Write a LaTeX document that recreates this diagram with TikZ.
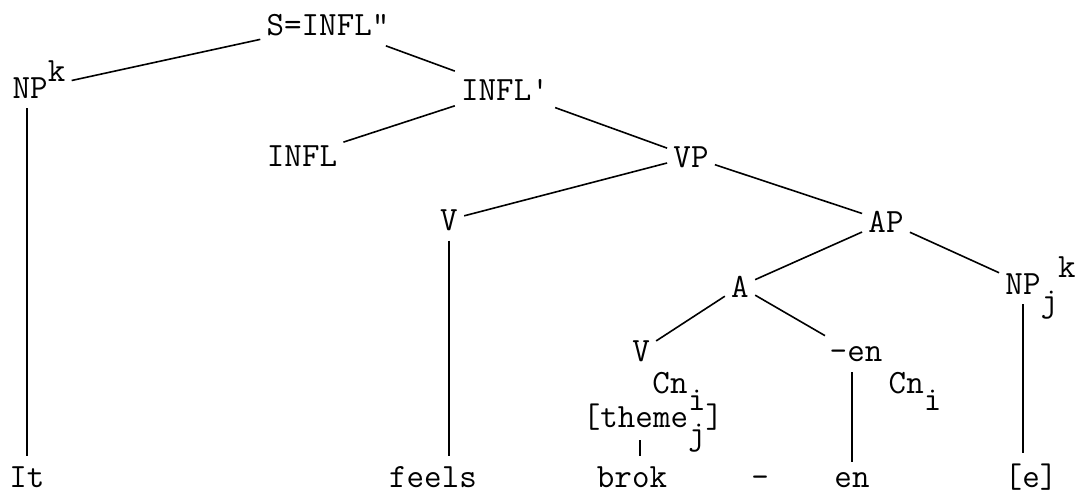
\documentclass[tikz,border=0pt]{standalone}
\usepackage{tikz}
\newcommand{\tup}[1]{\smash{\raisebox{0.5em}{#1}}}
\newcommand{\tdn}[1]{\smash{\raisebox{-0.5em}{#1}}}

\begin{document}
\begin{tikzpicture}[x=0.5pt, y=-0.5pt,
  every node/.style={font=\fontsize{17}{20}\selectfont\ttfamily, inner xsep=3pt, inner ysep=5pt, anchor=base},
  branch/.style={line width=0.8pt}]
  \useasboundingbox (0,0) rectangle (1083,494);
  % categories
  \node (s) at (328,35) {S=INFL\textquotedbl};
  \node (npk) at (39,98) {NP\tup{k}};
  \node (inflbar) at (505,100) {INFL\textquotesingle};
  \node (infl) at (302,166) {INFL};
  \node (vp) at (691,167) {VP};
  \node (v) at (449,230) {V};
  \node (ap) at (886,232) {AP};
  \node (a) at (740,297) {A};
  \node (npj) at (1023,294) {NP\rlap{\tdn{j}\tup{k}}};
  \node (vb) at (641,361) {V};
  \node (en) at (856,361) {-en};
  \node (cn) at (670,393) {Cn};
  \node (theme) at (653,427) {[theme\rlap{\tup{i}}\tdn{j}]};
  \node (cni) at (915,393) {Cn\tdn{i}};
  % words
  \node (it) at (27,487) {It};
  \node (feels) at (433,487) {feels};
  \node (brok) at (632,487) {brok};
  \node (dash) at (760,487) {-};
  \node (suffix) at (852,487) {en};
  \node (gap) at (1031,487) {[e]};
  % branches
  \draw[branch] (s) -- (npk);
  \draw[branch] (s) -- (inflbar);
  \draw[branch] (inflbar) -- (infl);
  \draw[branch] (inflbar) -- (vp);
  \draw[branch] (vp) -- (v);
  \draw[branch] (vp) -- (ap);
  \draw[branch] (ap) -- (a);
  \draw[branch] (ap) -- (npj);
  \draw[branch] (a) -- (vb);
  \draw[branch] (a) -- (en);
  \draw[branch] (it.north) -- (it.north |- npk.south);
  \draw[branch] (v.south) -- (v.south |- feels.north);
  \draw[branch] ([xshift=4pt]brok.north) -- ([xshift=4pt]brok.north |- theme.south);
  \draw[branch] (suffix.north) -- (suffix.north |- en.south);
  \draw[branch] (npj.south) -- (npj.south |- gap.north);
\end{tikzpicture}
\end{document}
